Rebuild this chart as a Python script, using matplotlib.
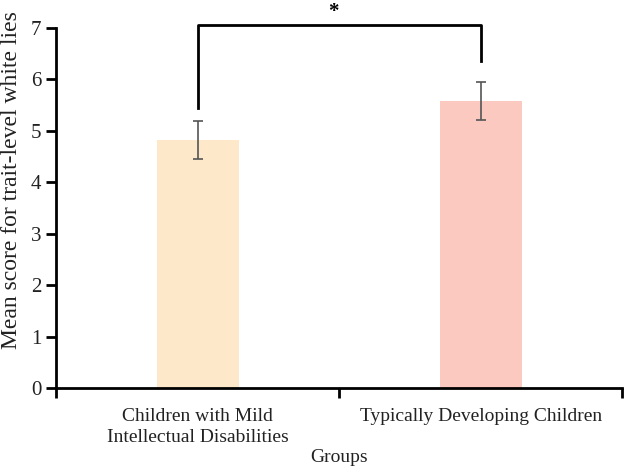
import matplotlib
matplotlib.use("Agg")
import matplotlib.pyplot as plt

categories = ["Children with Mild\nIntellectual Disabilities", "Typically Developing Children"]
means = [4.82, 5.58]
errors = [0.37, 0.37]
colors = ["#FDE8C9", "#FBC9BF"]
yticks = [0, 1, 2, 3, 4, 5, 6, 7]

plt.rcParams['font.family'] = ['Liberation Serif', 'DejaVu Serif']

fig = plt.figure(figsize=(6.24, 4.67), dpi=100)
ax = fig.add_axes([0.09, 0.169, 0.907, 0.771])

x = list(range(len(categories)))
ax.bar(x, means, width=0.29, color=colors, yerr=errors,
       error_kw=dict(ecolor="#555555", elinewidth=1.2, capsize=3.5, capthick=1.2))

ax.set_xlim(-0.5, 1.5)
ax.set_ylim(0, 7)
ax.set_yticks(yticks)
ax.set_xticks([-0.5, 0.5, 1.5])
ax.set_xticklabels([])
ax.set_xticks(x, minor=True)
labels = ax.set_xticklabels(categories, minor=True, fontsize=14, color="#222222")
for t in labels:
    t.set_linespacing(1.35)
ax.tick_params(axis='x', which='minor', length=0, pad=14)
ax.tick_params(axis='x', which='major', length=7, width=2, direction='out')
ax.tick_params(axis='y', length=7, width=2, direction='out', labelsize=15, colors='black', labelcolor="#222222")

for s in ['top', 'right']:
    ax.spines[s].set_visible(False)
for s in ['left', 'bottom']:
    ax.spines[s].set_linewidth(2)

ax.set_ylabel("Mean score for trait-level white lies", fontsize=17, color="#222222")
ax.yaxis.set_label_coords(-0.06, 0.578)
ax.set_xlabel("Groups", fontsize=14, color="#222222", labelpad=2)

# significance bracket
top = 7.06
ax.plot([0, 0, 1, 1], [5.45, top, top, 6.36], color="black", lw=2, clip_on=False)
ax.text(0.48, top + 0.25, "*", ha="center", va="center", fontsize=15, fontweight="bold")

fig.savefig("out.png", dpi=100)
